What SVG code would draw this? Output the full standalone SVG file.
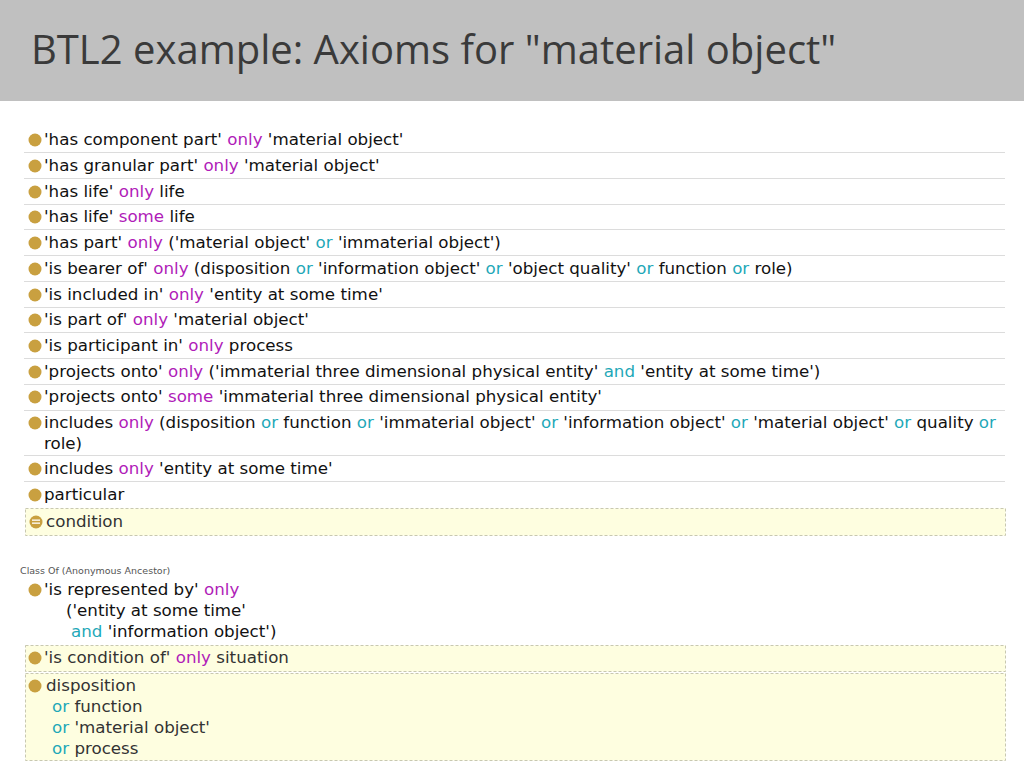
<svg xmlns="http://www.w3.org/2000/svg" width="1024" height="768" viewBox="0 0 1024 768">
<style>
text{font-family:"DejaVu Sans",Verdana,sans-serif;font-size:16.7px;fill:#111}
.k{fill:#b01cb8}.o{fill:#1fa8b8}
.sep{stroke:#dcdcdc;stroke-width:1}
.box{fill:#fefee0;stroke:#c8c8b0;stroke-dasharray:3,2}
.lt{fill:#333}
</style>
<defs><circle id="b" r="6.5" fill="#c9a040"/></defs>
<rect width="1024" height="768" fill="#fff"/>
<rect width="1024" height="101" fill="#c0c0c0"/>
<text x="31" y="64" style="font-family:'Open Sans','Liberation Sans',sans-serif;font-size:40px;fill:#3a3a3a">BTL2 example: Axioms for "material object"</text>
<g id="rows">
<g class="sep">
<line x1="24" y1="152.5" x2="1005" y2="152.5"/><line x1="24" y1="178.5" x2="1005" y2="178.5"/><line x1="24" y1="204.5" x2="1005" y2="204.5"/><line x1="24" y1="229.5" x2="1005" y2="229.5"/><line x1="24" y1="255.5" x2="1005" y2="255.5"/><line x1="24" y1="281.5" x2="1005" y2="281.5"/><line x1="24" y1="307.5" x2="1005" y2="307.5"/><line x1="24" y1="332.5" x2="1005" y2="332.5"/><line x1="24" y1="358.5" x2="1005" y2="358.5"/><line x1="24" y1="384.5" x2="1005" y2="384.5"/><line x1="24" y1="410.5" x2="1005" y2="410.5"/><line x1="24" y1="455.5" x2="1005" y2="455.5"/><line x1="24" y1="481.5" x2="1005" y2="481.5"/>
</g>
<use href="#b" x="35" y="140"/><text x="44" y="145">'has component part' <tspan class="k">only</tspan> 'material object'</text>
<use href="#b" x="35" y="166"/><text x="44" y="171">'has granular part' <tspan class="k">only</tspan> 'material object'</text>
<use href="#b" x="35" y="192"/><text x="44" y="197">'has life' <tspan class="k">only</tspan> life</text>
<use href="#b" x="35" y="217"/><text x="44" y="222">'has life' <tspan class="k">some</tspan> life</text>
<use href="#b" x="35" y="243"/><text x="44" y="248">'has part' <tspan class="k">only</tspan> ('material object' <tspan class="o">or</tspan> 'immaterial object')</text>
<use href="#b" x="35" y="269"/><text x="44" y="274">'is bearer of' <tspan class="k">only</tspan> (disposition <tspan class="o">or</tspan> 'information object' <tspan class="o">or</tspan> 'object quality' <tspan class="o">or</tspan> function <tspan class="o">or</tspan> role)</text>
<use href="#b" x="35" y="295"/><text x="44" y="300">'is included in' <tspan class="k">only</tspan> 'entity at some time'</text>
<use href="#b" x="35" y="320"/><text x="44" y="325">'is part of' <tspan class="k">only</tspan> 'material object'</text>
<use href="#b" x="35" y="346"/><text x="44" y="351">'is participant in' <tspan class="k">only</tspan> process</text>
<use href="#b" x="35" y="372"/><text x="44" y="377">'projects onto' <tspan class="k">only</tspan> ('immaterial three dimensional physical entity' <tspan class="o">and</tspan> 'entity at some time')</text>
<use href="#b" x="35" y="397"/><text x="44" y="402">'projects onto' <tspan class="k">some</tspan> 'immaterial three dimensional physical entity'</text>
<use href="#b" x="35" y="423"/><text x="44" y="428">includes <tspan class="k">only</tspan> (disposition <tspan class="o">or</tspan> function <tspan class="o">or</tspan> 'immaterial object' <tspan class="o">or</tspan> 'information object' <tspan class="o">or</tspan> 'material object' <tspan class="o">or</tspan> quality <tspan class="o">or</tspan></text>
<text x="44" y="449">role)</text>
<use href="#b" x="35" y="469"/><text x="44" y="474">includes <tspan class="k">only</tspan> 'entity at some time'</text>
<use href="#b" x="35" y="495"/><text x="44" y="500">particular</text>
<rect class="box" x="25.5" y="508.5" width="980" height="27"/>
<circle cx="36" cy="522" r="6.5" fill="#c9a040"/><rect x="32" y="519.5" width="8" height="1.3" fill="#fff"/><rect x="32" y="522.5" width="8" height="1.3" fill="#fff"/>
<text x="46" y="527" class="lt">condition</text>
<text x="20" y="574" style="font-size:9.5px;fill:#555">Class Of (Anonymous Ancestor)</text>
<use href="#b" x="35" y="590"/><text x="44" y="595">'is represented by' <tspan class="k">only</tspan></text>
<text x="66" y="616">('entity at some time'</text>
<text x="71" y="637"><tspan class="o">and</tspan> 'information object')</text>
<rect class="box" x="25.5" y="645.5" width="980" height="26"/>
<use href="#b" x="35" y="658"/><text x="44" y="663" class="lt">'is condition of' <tspan class="k">only</tspan> situation</text>
<rect class="box" x="25.5" y="673.5" width="980" height="87"/>
<use href="#b" x="35" y="686"/><text x="46" y="691" class="lt">disposition</text>
<text x="52" y="712" class="lt"><tspan class="o">or</tspan> function</text>
<text x="52" y="733" class="lt"><tspan class="o">or</tspan> 'material object'</text>
<text x="52" y="754" class="lt"><tspan class="o">or</tspan> process</text>
</g>
</svg>
